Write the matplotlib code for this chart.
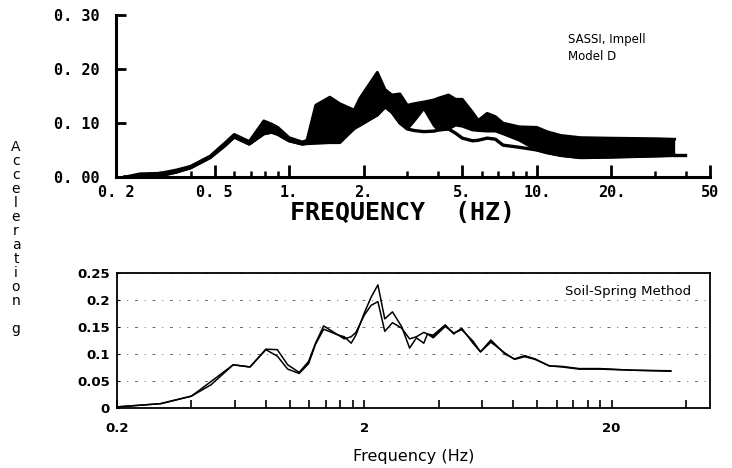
import numpy as np
import matplotlib
matplotlib.use("Agg")
import matplotlib.pyplot as plt
from matplotlib.ticker import FixedLocator, NullFormatter

# upper panel: SASSI / Impell Model D spectra (band of cases + lower case)
top_freq = [0.217, 0.25, 0.3, 0.35, 0.4, 0.48, 0.55, 0.6, 0.69, 0.79, 0.85, 0.9,
            1.0, 1.13, 1.18, 1.28, 1.46, 1.6, 1.83, 1.93, 2.27, 2.44, 2.6, 2.8,
            3.0, 3.2, 3.5, 3.85, 4.0, 4.4, 4.7, 5.0, 5.5, 5.8, 6.3, 6.8, 7.3,
            8.5, 10, 11, 12.5, 15, 20, 30, 36]
top_upper = [0.0, 0.006, 0.007, 0.013, 0.020, 0.039, 0.063, 0.079, 0.066, 0.104,
             0.098, 0.092, 0.073, 0.065, 0.068, 0.133, 0.148, 0.136, 0.124, 0.146,
             0.194, 0.162, 0.152, 0.154, 0.133, 0.136, 0.139, 0.143, 0.146, 0.152,
             0.144, 0.144, 0.120, 0.105, 0.118, 0.112, 0.100, 0.093, 0.092, 0.084,
             0.077, 0.073, 0.072, 0.071, 0.070]
top_mid = [0.0, 0.001, 0.002, 0.009, 0.017, 0.036, 0.058, 0.074, 0.061, 0.080,
           0.083, 0.079, 0.067, 0.061, 0.062, 0.063, 0.064, 0.064, 0.090, 0.096,
           0.115, 0.130, 0.120, 0.100, 0.089, 0.104, 0.127, 0.095, 0.087, 0.089,
           0.096, 0.094, 0.087, 0.086, 0.085, 0.085, 0.080, 0.068, 0.050, 0.045,
           0.040, 0.036, 0.037, 0.039, 0.040]
top_lower = [0.0, 0.001, 0.002, 0.009, 0.017, 0.036, 0.058, 0.074, 0.061, 0.080,
             0.083, 0.079, 0.067, 0.061, 0.062, 0.063, 0.064, 0.064, 0.090, 0.096,
             0.115, 0.130, 0.120, 0.100, 0.089, 0.086, 0.084, 0.085, 0.087, 0.089,
             0.081, 0.072, 0.067, 0.068, 0.072, 0.070, 0.059, 0.055, 0.050, 0.045,
             0.040, 0.036, 0.037, 0.039, 0.040]
tail_freq = [36, 39.6]
tail_acc = [0.040, 0.040]

top_major = [0.2, 0.5, 1, 2, 5, 10, 20, 50]
top_major_labels = ["0. 2", "0. 5", "1.", "2.", "5.", "10.", "20.", "50"]
top_minor = [0.3, 0.4, 0.6, 0.7, 0.8, 0.9, 3, 4, 6, 7, 8, 9, 30, 40]
top_yticks = [0.0, 0.1, 0.2, 0.3]
top_ylabels = ["0. 00", "0. 10", "0. 20", "0. 30"]

# lower panel: soil-spring method, two cases
bot_freq = [0.2, 0.3, 0.4, 0.48, 0.59, 0.69, 0.8, 0.89, 0.98, 1.09, 1.19, 1.27,
            1.37, 1.57, 1.66, 1.77, 1.85, 2.0, 2.13, 2.27, 2.42, 2.6, 2.83, 3.05,
            3.25, 3.48, 3.6, 3.8, 4.25, 4.6, 4.95, 5.5, 5.9, 6.5, 7.4, 8.1, 8.9,
            9.8, 11.2, 12.6, 14.8, 17.9, 24.3, 34.7]
bot_a = [0.002, 0.008, 0.022, 0.049, 0.080, 0.076, 0.109, 0.108, 0.080, 0.066,
         0.086, 0.120, 0.152, 0.135, 0.132, 0.120, 0.135, 0.176, 0.205, 0.228,
         0.165, 0.178, 0.151, 0.111, 0.130, 0.120, 0.137, 0.135, 0.154, 0.137,
         0.148, 0.120, 0.104, 0.126, 0.100, 0.091, 0.097, 0.091, 0.078, 0.077,
         0.073, 0.073, 0.070, 0.069]
bot_b = [0.002, 0.008, 0.022, 0.043, 0.080, 0.076, 0.108, 0.096, 0.072, 0.064,
         0.082, 0.118, 0.146, 0.135, 0.128, 0.132, 0.140, 0.172, 0.190, 0.197,
         0.142, 0.158, 0.148, 0.128, 0.132, 0.140, 0.137, 0.130, 0.151, 0.139,
         0.145, 0.124, 0.104, 0.122, 0.102, 0.090, 0.095, 0.090, 0.078, 0.076,
         0.072, 0.072, 0.070, 0.068]

bot_major = [0.2, 2, 20]
bot_major_labels = ["0.2", "2", "20"]
bot_minor = [0.4, 0.6, 0.8, 1.0, 1.2, 1.4, 1.6, 1.8, 4, 6, 8, 10, 12, 14, 16, 18, 40]
bot_yticks = [0, 0.05, 0.1, 0.15, 0.2, 0.25]
bot_ylabels = ["0", "0.05", "0.1", "0.15", "0.2", "0.25"]

W, H = 732, 468
fig = plt.figure(figsize=(W / 100, H / 100), dpi=100)

mono = dict(family="DejaVu Sans Mono", weight="bold")

# ---- upper panel ----
ax1 = fig.add_axes([116 / W, 1 - 177 / H, (710 - 116) / W, (177 - 15) / H])
ax1.fill_between(top_freq, top_mid, top_upper, color="black", lw=0)
ax1.plot(top_freq, top_upper, color="black", lw=2.0, solid_joinstyle="round")
ax1.plot(top_freq, top_mid, color="black", lw=2.0, solid_joinstyle="round")
ax1.plot(top_freq, top_lower, color="black", lw=2.4, solid_joinstyle="round")
ax1.plot(tail_freq, tail_acc, color="black", lw=2.4)
ax1.set_xscale("log")
ax1.set_xlim(0.2, 50)
ax1.set_ylim(0, 0.30)
for s in ["top", "right"]:
    ax1.spines[s].set_visible(False)
for s in ["left", "bottom"]:
    ax1.spines[s].set_linewidth(2.2)
ax1.xaxis.set_major_locator(FixedLocator(top_major))
ax1.set_xticklabels(top_major_labels, fontsize=11, **mono)
ax1.xaxis.set_minor_locator(FixedLocator(top_minor))
ax1.xaxis.set_minor_formatter(NullFormatter())
ax1.set_yticks(top_yticks)
ax1.set_yticklabels(top_ylabels, fontsize=11, **mono)
ax1.tick_params(axis="x", which="major", direction="in", length=9, width=2, pad=6)
ax1.tick_params(axis="x", which="minor", direction="in", length=4, width=1.8)
ax1.tick_params(axis="y", direction="in", length=7, width=2, pad=12)
ax1.patch.set_alpha(0)

fig.text(403 / W, 1 - 213 / H, "FREQUENCY  (HZ)", fontsize=18, ha="center",
         va="center", **mono)
fig.text(568 / W, 1 - 48 / H, "SASSI, Impell\nModel D", fontsize=8.5,
         family="DejaVu Sans", ha="left", va="center", linespacing=1.35)

# ---- lower panel ----
ax2 = fig.add_axes([117 / W, 1 - 408 / H, (710 - 117) / W, (408 - 273) / H])
ax2.fill_between(bot_freq, bot_a, bot_b, color="black", lw=0,
                 where=np.abs(np.array(bot_a) - np.array(bot_b)) <= 0.006,
                 interpolate=True)
ax2.plot(bot_freq, bot_a, color="black", lw=1.1)
ax2.plot(bot_freq, bot_b, color="black", lw=1.1)
ax2.set_xscale("log")
ax2.set_xlim(0.2, 50)
ax2.set_ylim(0, 0.25)
for s in ax2.spines.values():
    s.set_linewidth(1.3)
ax2.xaxis.set_major_locator(FixedLocator(bot_major))
ax2.set_xticklabels(bot_major_labels, fontsize=9.5, family="DejaVu Sans",
                    weight="bold")
ax2.xaxis.set_minor_locator(FixedLocator(bot_minor))
ax2.xaxis.set_minor_formatter(NullFormatter())
ax2.set_yticks(bot_yticks)
ax2.set_yticklabels(bot_ylabels, fontsize=9.5, family="DejaVu Sans",
                    weight="bold")
ax2.tick_params(axis="x", which="both", direction="in", length=6, width=1.2,
                pad=10)
ax2.tick_params(axis="y", direction="in", length=2, width=0.8, pad=5)
ax2.grid(axis="y", color="0.4", lw=0.7, ls=(0, (3, 7, 1, 7)))
ax2.set_xlabel("Frequency (Hz)", fontsize=11.5, family="DejaVu Sans",
               labelpad=10)
ax2.text(0.968, 0.86, "Soil-Spring Method", transform=ax2.transAxes,
         fontsize=9.5, family="DejaVu Sans", ha="right", va="center")

# stacked y label shared by both panels
fig.text(16 / W, 1 - 140 / H, "\n".join("Acceleration") + "\n\ng", fontsize=10,
         family="DejaVu Sans", ha="center", va="top", linespacing=1.0,
         multialignment="center")

fig.savefig("out.png", dpi=100)
